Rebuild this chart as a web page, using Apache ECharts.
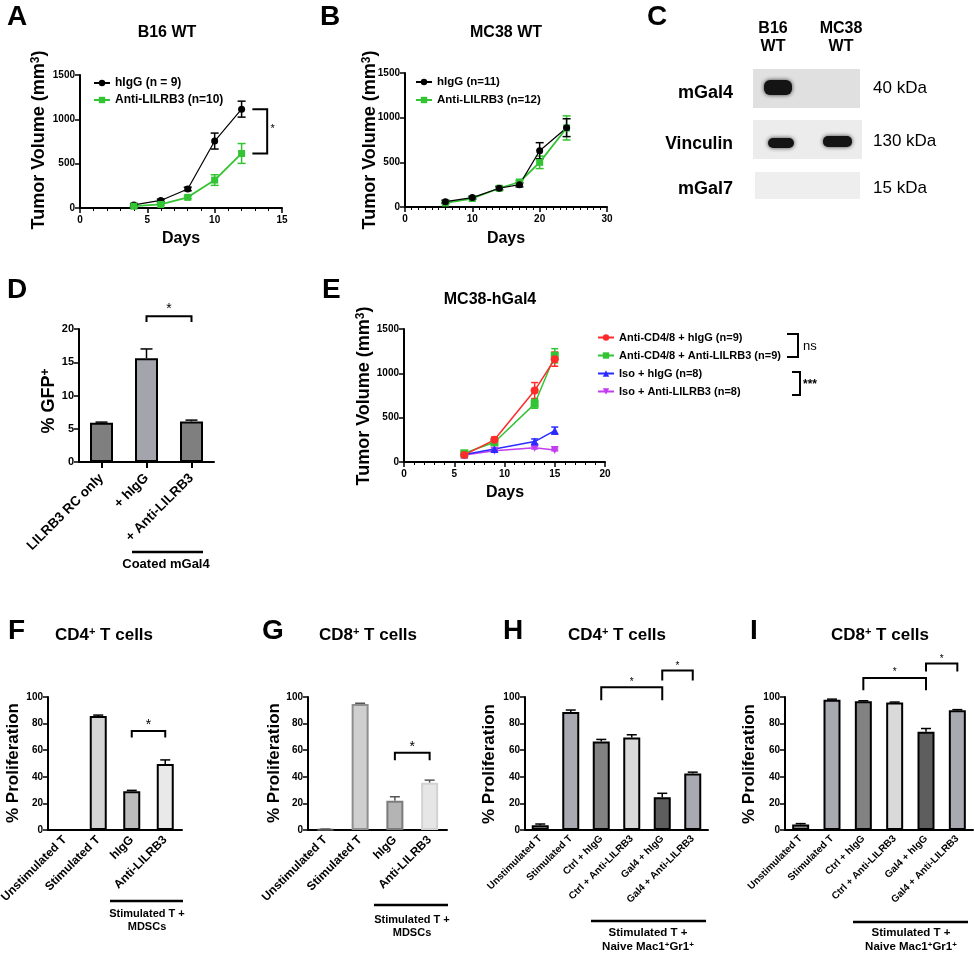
<!DOCTYPE html>
<html><head><meta charset="utf-8">
<script src="https://cdn.jsdelivr.net/npm/echarts@6/dist/echarts.min.js"></script>
<style>html,body{margin:0;padding:0;background:#fff}#c{width:975px;height:957px}</style>
</head><body><div id="c"></div>
<script>
const FONT = '"Liberation Sans", Arial, Helvetica, sans-serif';

// ---------- DATA ----------
// Panel A: B16 WT
const aDays = [4, 6, 8, 10, 12];
const aHigg = [35, 85, 215, 755, 1115];
const aHiggErr = [15, 15, 20, 90, 90];
const aAnti = [20, 40, 120, 315, 615];
const aAntiErr = [10, 10, 15, 60, 112];
// Panel B: MC38 WT
const bDays = [6, 10, 14, 17, 20, 24];
const bHigg = [60, 105, 210, 250, 630, 888];
const bHiggErr = [15, 15, 20, 25, 90, 100];
const bAnti = [45, 95, 210, 280, 500, 885];
const bAntiErr = [10, 10, 15, 20, 70, 135];
// Panel D
const dCats = ['LILRB3 RC only', '+ hIgG', '+ Anti-LILRB3'];
const dVals = [5.9, 15.6, 6.1];
const dErr = [0.1, 1.4, 0.2];
// Panel E: MC38-hGal4
const eDays = [6, 9, 13, 15];
const eRed = [80, 250, 806, 1160];
const eRedErr = [10, 30, 90, 80];
const eGreen = [98, 222, 656, 1198];
const eGreenErr = [10, 25, 50, 80];
const eBlue = [85, 147, 230, 354];
const eBlueErr = [8, 15, 30, 40];
const ePurple = [80, 128, 162, 136];
const ePurpleErr = [8, 10, 15, 10];
// Panel F, G
const fgCats = ['Unstimulated T', 'Stimulated T', 'hIgG', 'Anti-LILRB3'];
const fVals = [0, 85.8, 29.2, 49.6];
const fErr = [0, 0.6, 0.6, 3.1];
const gVals = [0.5, 94.8, 22.0, 35.5];
const gErr = [0.2, 0.5, 3.0, 2.0];
// Panel H, I
const hiCats = ['Unstimulated T', 'Stimulated T', 'Ctrl + hIgG', 'Ctrl + Anti-LILRB3', 'Gal4 + hIgG', 'Gal4 + Anti-LILRB3'];
const hVals = [3.5, 88.7, 66.6, 69.6, 24.6, 42.5];
const hErr = [1.0, 1.5, 1.5, 2.0, 3.0, 1.0];
const iVals = [4.2, 98.0, 96.8, 95.8, 73.8, 90.0];
const iErr = [0.6, 0.4, 0.4, 0.4, 2.5, 0.5];

// ---------- STYLES ----------
const dColors = ['#7f7f7f', '#a4a4ac', '#7f7f7f'];
const fColors = ['#bdbdbd', '#d4d4d4', '#bcbcbc', '#e9e9e9'];
const gColors = ['#6a6a6a', '#cfcfcf', '#b4b4b4', '#e6e6e6'];
const gBorders = ['#555555', '#8e8e8e', '#7c7c7c', '#d2d2d2'];
const hiColors = ['#8a8a8a', '#a9a9b1', '#828282', '#d9d9d9', '#5e5e5e', '#a9a9b1'];
const GREEN = '#33c433';

const grids = [
  {left: 80, top: 75, width: 202, height: 133},   // 0 A
  {left: 405, top: 73, width: 202, height: 134},  // 1 B
  {left: 404, top: 329, width: 201, height: 133}, // 2 E
  {left: 79, top: 329, width: 135, height: 133},  // 3 D
  {left: 48, top: 697, width: 134, height: 133},  // 4 F
  {left: 308, top: 697, width: 139, height: 133}, // 5 G
  {left: 525, top: 697, width: 183, height: 133}, // 6 H
  {left: 785, top: 697, width: 188, height: 133}  // 7 I
].map(g => Object.assign({outerBoundsMode: 'none', containLabel: false}, g));

const AXL = {show: true, onZero: false, lineStyle: {color: '#000', width: 2}};
const LBL = (fs) => ({color: '#000', fontSize: fs, fontWeight: 'bold', fontFamily: FONT, formatter: v => String(v)});

function valX(gi, max, interval, minorSplit) {
  return {type: 'value', gridIndex: gi, min: 0, max, interval,
    axisLine: AXL,
    axisTick: {show: true, length: 5, lineStyle: {color: '#000', width: 1.5}},
    minorTick: {show: true, splitNumber: minorSplit, length: 3, lineStyle: {color: '#000', width: 1}},
    splitLine: {show: false}, minorSplitLine: {show: false},
    axisLabel: Object.assign(LBL(10), {margin: 7})};
}
function valY(gi, max, interval, fs) {
  return {type: 'value', gridIndex: gi, min: 0, max, interval,
    axisLine: AXL,
    axisTick: {show: true, length: 5, lineStyle: {color: '#000', width: 1.5}},
    splitLine: {show: false},
    axisLabel: Object.assign(LBL(fs || 10), {margin: 5})};
}
function catX(gi, cats, fs, ticks, margin) {
  const lbl = LBL(fs); delete lbl.formatter;
  return {type: 'category', gridIndex: gi, data: cats,
    axisLine: AXL,
    axisTick: {show: ticks, alignWithLabel: true, length: 6, lineStyle: {color: '#000', width: 2}},
    axisLabel: Object.assign(lbl, {rotate: 45, interval: 0, margin: margin})};
}

function lineSeries(name, gi, xs, ys, color, symbol, size, width, extra) {
  return Object.assign({type: 'line', name, xAxisIndex: gi, yAxisIndex: gi,
    data: xs.map((x, i) => [x, ys[i]]), symbol, symbolSize: size,
    itemStyle: {color}, lineStyle: {color, width}, color, z: 3, silent: true}, extra || {});
}
function errSeries(gi, xs, ys, es, color, cap, upOnly) {
  return {type: 'custom', name: '_err', xAxisIndex: gi, yAxisIndex: gi, z: 2, silent: true,
    data: xs.map((x, i) => [x, ys[i], es[i]]),
    renderItem(params, api) {
      const x = api.value(0), y = api.value(1), e = api.value(2);
      if (!(e > 0)) return null;
      const t = api.coord([x, y + e]);
      const b = api.coord([x, upOnly ? y : y - e]);
      const st = {stroke: color, lineWidth: 1.5};
      const h = cap / 2;
      const ch = [
        {type: 'line', shape: {x1: t[0], y1: t[1], x2: b[0], y2: b[1]}, style: st},
        {type: 'line', shape: {x1: t[0] - h, y1: t[1], x2: t[0] + h, y2: t[1]}, style: st}
      ];
      if (!upOnly) ch.push({type: 'line', shape: {x1: b[0] - h, y1: b[1], x2: b[0] + h, y2: b[1]}, style: st});
      return {type: 'group', children: ch};
    }};
}
function barSeries(gi, vals, colors, borders, width) {
  return {type: 'bar', xAxisIndex: gi, yAxisIndex: gi, barWidth: width, silent: true, z: 2,
    data: vals.map((v, i) => ({value: v, itemStyle: {color: colors[i], borderColor: borders ? borders[i] : '#000', borderWidth: 2}}))};
}
function bracketSeries(gi, items) {
  return {type: 'custom', name: '_br', xAxisIndex: gi, yAxisIndex: gi, z: 5, clip: false, silent: true,
    data: items.map((_, i) => [0, 0]),
    renderItem(params, api) {
      const it = items[params.dataIndex];
      const pts = it.pts.map(p => api.coord(p));
      let sx;
      if (it.star[0] == null) sx = (pts[0][0] + pts[pts.length - 1][0]) / 2;
      else sx = api.coord([it.star[0], it.star[1]])[0];
      const sy = api.coord([it.star[0] == null ? it.pts[0][0] : it.star[0], it.star[1]])[1] + it.size * 0.22;
      return {type: 'group', children: [
        {type: 'polyline', shape: {points: pts}, style: {stroke: '#000', lineWidth: 2, fill: null}},
        {type: 'text', style: {text: it.text, x: sx, y: sy, align: 'center', verticalAlign: 'middle',
          fontSize: it.size, fontFamily: FONT, fontWeight: it.bold ? 'bold' : 'normal', fill: '#000'}}
      ]};
    }};
}

// ---------- GRAPHIC TEXT HELPERS ----------
function txt(text, x, y, size, o) {
  o = o || {};
  const el = {type: 'text', x, y, silent: true, style: {text, fontSize: size, fontWeight: o.weight || 'bold',
    fontFamily: FONT, fill: '#000', align: o.align || 'center', verticalAlign: 'middle', lineHeight: o.lh}};
  if (o.rot) el.rotation = Math.PI / 2;
  if (o.rich) el.style.rich = o.rich;
  return el;
}
function richSup(size, supSize) {
  return {n: {fontSize: size, fontWeight: 'bold', fontFamily: FONT, fill: '#000'},
          s: {fontSize: supSize, fontWeight: 'bold', fontFamily: FONT, fill: '#000', verticalAlign: 'top'}};
}
function hline(x1, y, x2, w) {
  return {type: 'line', silent: true, shape: {x1, y1: y, x2, y2: y}, style: {stroke: '#000', lineWidth: w || 2.5}};
}
const BAND = {fill: '#141414', shadowBlur: 4, shadowColor: 'rgba(0,0,0,0.75)'};

const graphics = [
  // panel letters
  txt('A', 7, 17, 28, {align: 'left'}), txt('B', 320, 17, 28, {align: 'left'}), txt('C', 647, 17, 28, {align: 'left'}),
  txt('D', 7, 290, 28, {align: 'left'}), txt('E', 322, 290, 28, {align: 'left'}),
  txt('F', 8, 631, 28, {align: 'left'}), txt('G', 262, 631, 28, {align: 'left'}),
  txt('H', 503, 631, 28, {align: 'left'}), txt('I', 750, 631, 28, {align: 'left'}),
  // titles
  txt('B16 WT', 167, 33, 16), txt('MC38 WT', 506, 33, 16), txt('MC38-hGal4', 490, 300, 16),
  txt('{n|CD4}{s|+}{n| T cells}', 104, 635, 17, {rich: richSup(17, 11)}),
  txt('{n|CD8}{s|+}{n| T cells}', 368, 635, 17, {rich: richSup(17, 11)}),
  txt('{n|CD4}{s|+}{n| T cells}', 617, 635, 17, {rich: richSup(17, 11)}),
  txt('{n|CD8}{s|+}{n| T cells}', 880, 635, 17, {rich: richSup(17, 11)}),
  // axis names
  txt('{n|Tumor Volume (mm}{s|3}{n|)}', 39, 140, 18, {rot: true, rich: richSup(18, 12)}),
  txt('{n|Tumor Volume (mm}{s|3}{n|)}', 370, 140, 18, {rot: true, rich: richSup(18, 12)}),
  txt('{n|Tumor Volume (mm}{s|3}{n|)}', 364, 396, 18, {rot: true, rich: richSup(18, 12)}),
  txt('{n|% GFP}{s|+}', 49, 401, 18, {rot: true, rich: richSup(18, 12)}),
  txt('% Proliferation', 13, 763, 17, {rot: true}),
  txt('% Proliferation', 274, 763, 17, {rot: true}),
  txt('% Proliferation', 489, 764, 17, {rot: true}),
  txt('% Proliferation', 749, 764, 17, {rot: true}),
  txt('Days', 181, 239, 16), txt('Days', 506, 239, 16), txt('Days', 505, 493, 16),
  // panel C western blot
  txt('B16\nWT', 773, 38, 16, {lh: 18}), txt('MC38\nWT', 841, 38, 16, {lh: 18}),
  txt('mGal4', 733, 93, 18, {align: 'right'}), txt('Vinculin', 733, 144, 17.5, {align: 'right'}),
  txt('mGal7', 733, 189, 18, {align: 'right'}),
  txt('40 kDa', 873, 88, 17, {align: 'left', weight: 'normal'}),
  txt('130 kDa', 873, 141, 17, {align: 'left', weight: 'normal'}),
  txt('15 kDa', 873, 188, 17, {align: 'left', weight: 'normal'}),
  {type: 'rect', silent: true, shape: {x: 753, y: 69, width: 107, height: 39}, style: {fill: '#e0e0e0'}},
  {type: 'rect', silent: true, shape: {x: 753, y: 120, width: 109, height: 39}, style: {fill: '#ececec'}},
  {type: 'rect', silent: true, shape: {x: 755, y: 172, width: 105, height: 27}, style: {fill: '#eeeeee'}},
  {type: 'rect', silent: true, shape: {x: 764, y: 80, width: 28, height: 15, r: 6}, style: BAND},
  {type: 'rect', silent: true, shape: {x: 768, y: 138, width: 26, height: 10, r: 5}, style: BAND},
  {type: 'rect', silent: true, shape: {x: 823, y: 136, width: 29, height: 11, r: 5}, style: BAND},
  // panel E significance brackets (next to legend)
  {type: 'polyline', silent: true, shape: {points: [[787, 334], [798, 334], [798, 357], [787, 357]]}, style: {stroke: '#000', lineWidth: 2, fill: null}},
  txt('ns', 803, 346, 13, {align: 'left', weight: 'normal'}),
  {type: 'polyline', silent: true, shape: {points: [[792, 372], [800, 372], [800, 395], [792, 395]]}, style: {stroke: '#000', lineWidth: 2, fill: null}},
  txt('***', 803, 385, 12, {align: 'left'}),
  // group labels under bar charts
  hline(132, 552, 203), txt('Coated mGal4', 166, 564, 13),
  hline(110, 901, 183), txt('Stimulated T +', 147, 914, 11), txt('MDSCs', 147, 927, 11),
  hline(374, 905, 448), txt('Stimulated T +', 412, 920, 11), txt('MDSCs', 412, 933, 11),
  hline(591, 921, 706), txt('Stimulated T +', 648, 933, 11.5),
  txt('{n|Naive Mac1}{s|+}{n|Gr1}{s|+}', 648, 947, 11.5, {rich: richSup(11.5, 8)}),
  hline(853, 922, 968), txt('Stimulated T +', 911, 933, 11.5),
  txt('{n|Naive Mac1}{s|+}{n|Gr1}{s|+}', 911, 947, 11.5, {rich: richSup(11.5, 8)})
];

const legendText = {color: '#000', fontSize: 12, fontWeight: 'bold', fontFamily: FONT};

const option = {
  animation: false,
  backgroundColor: '#fff',
  grid: grids,
  xAxis: [
    valX(0, 15, 5, 5), valX(1, 30, 10, 10), valX(2, 20, 5, 5),
    catX(3, dCats, 13.5, true, 14), catX(4, fgCats, 12, false, 8), catX(5, fgCats, 12, false, 8),
    catX(6, hiCats, 10, false, 7), catX(7, hiCats, 10, false, 7)
  ],
  yAxis: [
    valY(0, 1500, 500), valY(1, 1500, 500), valY(2, 1500, 500), valY(3, 20, 5, 11),
    valY(4, 100, 20), valY(5, 100, 20), valY(6, 100, 20), valY(7, 100, 20)
  ],
  legend: [
    {left: 93, top: 77, padding: 0, orient: 'vertical', itemGap: 5, itemWidth: 16, itemHeight: 8, selectedMode: false,
      textStyle: legendText, data: ['hIgG (n = 9)', 'Anti-LILRB3 (n=10)']},
    {left: 415, top: 76, padding: 0, orient: 'vertical', itemGap: 6, itemWidth: 16, itemHeight: 8, selectedMode: false,
      textStyle: Object.assign({}, legendText, {fontSize: 11.5}), data: ['hIgG (n=11)', 'Anti-LILRB3 (n=12)']},
    {left: 597, top: 332, padding: 0, orient: 'vertical', itemGap: 7, itemWidth: 16, itemHeight: 8, selectedMode: false,
      textStyle: Object.assign({}, legendText, {fontSize: 11}),
      data: ['Anti-CD4/8 + hIgG (n=9)', 'Anti-CD4/8 + Anti-LILRB3 (n=9)', 'Iso + hIgG (n=8)', 'Iso + Anti-LILRB3 (n=8)']}
  ],
  series: [
    // A
    errSeries(0, aDays, aHigg, aHiggErr, '#000', 8, false),
    errSeries(0, aDays, aAnti, aAntiErr, GREEN, 8, false),
    lineSeries('hIgG (n = 9)', 0, aDays, aHigg, '#000', 'circle', 7, 1.2),
    lineSeries('Anti-LILRB3 (n=10)', 0, aDays, aAnti, GREEN, 'rect', 7, 1.8),
    bracketSeries(0, [{pts: [[12.8, 1115], [13.9, 1115], [13.9, 615], [12.8, 615]], star: [14.3, 913], text: '*', size: 11}]),
    // B
    errSeries(1, bDays, bAnti, bAntiErr, GREEN, 8, false),
    errSeries(1, bDays, bHigg, bHiggErr, '#000', 8, false),
    lineSeries('Anti-LILRB3 (n=12)', 1, bDays, bAnti, GREEN, 'rect', 7, 1.8),
    lineSeries('hIgG (n=11)', 1, bDays, bHigg, '#000', 'circle', 7, 1.2),
    // E
    errSeries(2, eDays, eRed, eRedErr, '#ff2a2a', 7, false),
    errSeries(2, eDays, eGreen, eGreenErr, GREEN, 7, false),
    errSeries(2, eDays, eBlue, eBlueErr, '#2b2bff', 7, false),
    errSeries(2, eDays, ePurple, ePurpleErr, '#c23cf0', 7, false),
    lineSeries('Iso + Anti-LILRB3 (n=8)', 2, eDays, ePurple, '#c23cf0', 'triangle', 8, 1.5, {symbolRotate: 180}),
    lineSeries('Iso + hIgG (n=8)', 2, eDays, eBlue, '#2b2bff', 'triangle', 8, 1.5),
    lineSeries('Anti-CD4/8 + Anti-LILRB3 (n=9)', 2, eDays, eGreen, GREEN, 'rect', 8, 1.5),
    lineSeries('Anti-CD4/8 + hIgG (n=9)', 2, eDays, eRed, '#ff2a2a', 'circle', 8, 1.5),
    // D
    barSeries(3, dVals, dColors, null, 23),
    errSeries(3, [0, 1, 2], dVals, dErr, '#000', 12, true),
    bracketSeries(3, [{pts: [[1, 21.05], [1, 21.9], [2, 21.9], [2, 21.05]], star: [null, 23.4], text: '*', size: 14}]),
    // F
    barSeries(4, fVals, fColors, null, 17),
    errSeries(4, [0, 1, 2, 3], fVals, fErr, '#000', 10, true),
    bracketSeries(4, [{pts: [[2, 69.6], [2, 74.4], [3, 74.4], [3, 69.6]], star: [null, 81], text: '*', size: 14}]),
    // G
    barSeries(5, gVals, gColors, gBorders, 17),
    errSeries(5, [0, 1, 2, 3], gVals, gErr, '#555', 10, true),
    bracketSeries(5, [{pts: [[2, 52.5], [2, 58], [3, 58], [3, 52.5]], star: [null, 64.5], text: '*', size: 14}]),
    // H
    barSeries(6, hVals, hiColors, null, 17),
    errSeries(6, [0, 1, 2, 3, 4, 5], hVals, hErr, '#000', 10, true),
    bracketSeries(6, [
      {pts: [[2, 97.5], [2, 107.3], [4, 107.3], [4, 97.5]], star: [null, 112.5], text: '*', size: 10},
      {pts: [[4, 112.5], [4, 120], [5, 120], [5, 112.5]], star: [null, 125], text: '*', size: 10}
    ]),
    // I
    barSeries(7, iVals, hiColors, null, 17),
    errSeries(7, [0, 1, 2, 3, 4, 5], iVals, iErr, '#000', 10, true),
    bracketSeries(7, [
      {pts: [[2, 105], [2, 114.2], [4, 114.2], [4, 105]], star: [null, 120], text: '*', size: 10},
      {pts: [[4, 119.2], [4, 125.2], [5, 125.2], [5, 119.2]], star: [null, 129.8], text: '*', size: 10}
    ])
  ],
  graphic: graphics
};

const chart = echarts.init(document.getElementById('c'), null, {renderer: 'canvas'});
chart.setOption(option);
</script>
</body></html>
